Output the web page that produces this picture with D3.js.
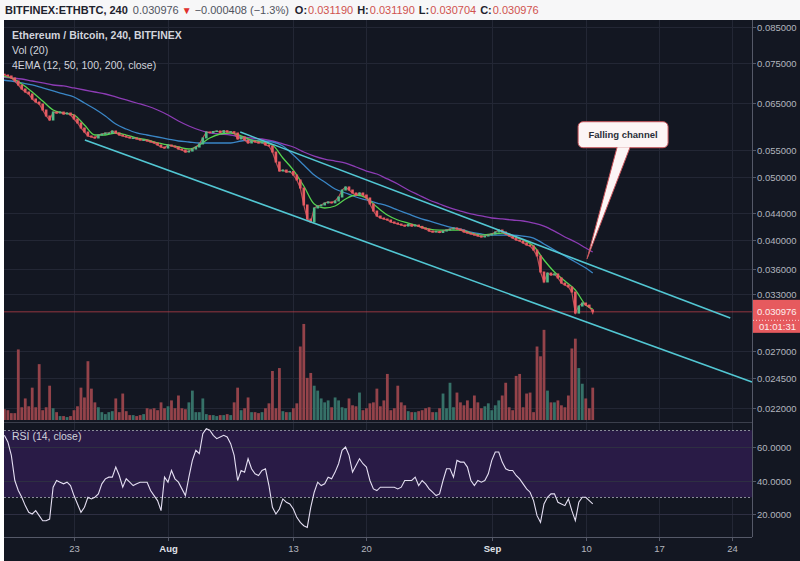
<!DOCTYPE html>
<html>
<head>
<meta charset="utf-8">
<script src="https://cdn.jsdelivr.net/npm/d3@7"></script>
<style>
body { margin: 0; background: #fff; }
text { font-family: "Liberation Sans", Arial, sans-serif; }
</style>
</head>
<body>
<svg id="chart" width="800" height="561"></svg>
<script>
// ETH/BTC 4h chart, Bitfinex, Jul 16 - Sep 10 2018 (one candle per 8h)
var candleStart = Date.UTC(2018, 6, 16, 8);
var candleHours = 8;

var closes = [
  .07179,.07154,.07104,.07028,.06929,.06831,.06759,.06711,.06593,.06523,
  .06477,.06340,.06207,.06119,.06295,.06273,.06295,.06251,.06273,.06229,
  .06141,.06055,.05948,.05864,.05782,.05762,.05741,.05802,.05823,.05843,
  .05843,.05885,.05843,.05802,.05782,.05762,.05741,.05741,.05721,.05700,
  .05700,.05680,.05660,.05640,.05600,.05560,.05540,.05600,.05580,.05560,
  .05520,.05501,.05462,.05481,.05520,.05560,.05620,.05741,.05864,.05850,
  .05875,.05885,.05855,.05890,.05864,.05870,.05843,.05721,.05762,.05700,
  .05640,.05680,.05660,.05640,.05650,.05600,.05580,.05462,.05272,.05106,
  .05124,.05088,.05098,.05034,.04946,.04807,.04526,.04306,.04261,.04478,
  .04510,.04526,.04558,.04575,.04560,.04591,.04656,.04773,.04825,.04773,
  .04723,.04689,.04723,.04689,.04640,.04542,.04430,.04352,.04322,.04306,
  .04291,.04261,.04245,.04230,.04215,.04200,.04225,.04200,.04215,.04195,
  .04171,.04156,.04126,.04112,.04120,.04105,.04126,.04141,.04156,.04171,
  .04156,.04141,.04112,.04097,.04083,.04068,.04054,.04040,.04054,.04068,
  .04083,.04112,.04141,.04112,.04083,.04054,.04025,.03997,.03983,.03955,
  .03927,.03913,.03857,.03777,.03568,.03444,.03555,.03530,.03543,.03493,
  .03431,.03407,.03383,.03323,.03084,.03162,.03196,.03173,.03151,.030976
];
var firstOpen = 0.07200;
var last = { o: 0.031190, h: 0.031190, l: 0.030704, c: 0.030976, change: "\u22120.000408 (\u22121.3%)" };

var volumes = [
  11,10,7,7,72,13,22,14,33,13,
  57,10,13,35,12,8,4,4,3,4,
  10,14,33,23,60,32,18,13,8,6,
  8,9,22,8,27,9,5,5,4,5,
  6,12,11,12,10,18,12,14,20,12,
  25,12,11,18,30,8,8,22,6,5,
  5,4,5,5,6,5,18,33,10,12,
  23,8,8,7,8,12,17,50,12,53,
  9,8,8,12,17,75,98,43,48,35,
  30,22,18,20,13,23,20,13,12,22,
  15,14,28,10,12,17,18,32,14,20,
  47,10,12,35,18,15,9,8,8,9,
  10,12,13,8,8,12,27,12,38,13,
  28,18,15,20,12,25,18,12,14,17,
  10,15,20,25,38,13,10,45,47,13,
  27,28,8,75,65,92,30,18,18,20,
  15,13,25,73,83,53,37,22,12,33
];

var rsi = [
  67,63,55,40,34,30,25,21,20,22,
  19,16,16,17,36,40,39,38,39,37,
  31,26,21,24,30,29,30,32,38,41,
  42,42,48,43,36,41,39,37,38,39,
  39,39,34,31,28,22,42,39,46,41,
  39,35,31,42,52,58,56,68,71,70,
  67,65,66,67,66,62,55,40,46,45,
  53,47,44,43,46,47,37,24,20,23,
  29,27,26,23,18,15,13,12,24,33,
  39,37,38,42,41,45,50,58,60,55,
  45,49,53,50,48,40,35,34,36,36,
  36,36,36,35,36,40,40,40,42,37,
  40,38,35,33,31,32,40,47,47,42,
  52,51,51,48,40,37,40,39,40,44,
  52,57,57,51,47,46,46,43,41,38,
  35,33,28,19,15,26,30,32,32,27,
  26,25,29,22,16,27,30,30,28,26
];

// EMAs read once a day (00:00 UTC Jul 16 .. Sep 10) plus the last candle
var ema12 = [
  .07154,.07104,.06954,.06759,.06547,.06340,.06273,.06229,.06012,.05802,
  .05802,.05844,.05802,.05741,.05700,.05640,.05600,.05560,.05521,.05600,
  .05741,.05823,.05844,.05782,.05700,.05660,.05600,.05347,.05124,.04842,
  .04542,.04478,.04510,.04623,.04689,.04640,.04494,.04368,.04291,.04245,
  .04200,.04156,.04141,.04141,.04141,.04097,.04068,.04083,.04097,.04054,
  .03997,.03913,.03723,.03568,.03456,.03347,.03173,.03128
];
var ema50 = [
  .07053,.07028,.06979,.06929,.06856,.06783,.06711,.06640,.06500,.06363,
  .06207,.06033,.05927,.05844,.05802,.05761,.05720,.05680,.05660,.05640,
  .05640,.05640,.05640,.05680,.05700,.05680,.05660,.05580,.05404,.05216,
  .05034,.04911,.04790,.04723,.04656,.04607,.04558,.04510,.04446,.04384,
  .04322,.04276,.04230,.04185,.04156,.04112,.04083,.04068,.04068,.04068,
  .04054,.04025,.03941,.03857,.03777,.03697,.03619,.03555
];
var ema100 = [
  .07129,.07104,.07078,.07028,.06979,.06929,.06905,.06856,.06807,.06759,
  .06711,.06640,.06570,.06500,.06431,.06340,.06229,.06098,.05991,.05906,
  .05844,.05823,.05802,.05761,.05741,.05720,.05680,.05620,.05560,.05462,
  .05385,.05328,.05290,.05253,.05179,.05106,.05052,.04964,.04876,.04773,
  .04689,.04607,.04542,.04478,.04430,.04384,.04353,.04322,.04307,.04291,
  .04276,.04245,.04200,.04126,.04040,.03969,.03885,.03830
];

// channel drawn on the chart (two trend lines)
var channel = [
  { from: [Date.UTC(2018, 7, 7, 22), 0.05864], to: [Date.UTC(2018, 8, 23, 20), 0.03031] },
  { from: [Date.UTC(2018, 6, 24, 1), 0.05700], to: [Date.UTC(2018, 8, 25, 22), 0.02414] }
];
var calloutText = "Falling channel";
var calloutAnchor = [Date.UTC(2018, 8, 10, 3), 0.03740];

var priceTicks = [0.085, 0.075, 0.065, 0.055, 0.050, 0.044, 0.040, 0.036, 0.033, 0.027, 0.0245, 0.022];
var rsiTicks = [60, 40, 20];
var timeTicks = [
  [Date.UTC(2018, 6, 23), "23", false], [Date.UTC(2018, 7, 1), "Aug", true],
  [Date.UTC(2018, 7, 13), "13", false], [Date.UTC(2018, 7, 20), "20", false],
  [Date.UTC(2018, 8, 1), "Sep", true], [Date.UTC(2018, 8, 10), "10", false],
  [Date.UTC(2018, 8, 17), "17", false], [Date.UTC(2018, 8, 24), "24", false]
];

var UP = "#53b987", DOWN = "#e65b62";

var svg = d3.select("#chart");
var L = 4, R = 752, T = 20, mainB = 422, rsiB = 537;

var x = d3.scaleUtc().domain([new Date(Date.UTC(2018, 6, 23)), new Date(Date.UTC(2018, 8, 24))]).range([74, 732]);
var y = d3.scaleLog().domain([0.033, 0.065]).range([294, 103]);
var yVol = d3.scaleLinear().domain([0, 100]).range([420, 322]);
var yRsi = d3.scaleLinear().domain([20, 60]).range([514, 447]);

// backgrounds
svg.append("rect").attr("width", 800).attr("height", T).attr("fill", "#f7f7f8");
svg.append("rect").attr("x", L).attr("y", T).attr("width", 800 - L).attr("height", 561 - T).attr("fill", "#131722");

var defs = svg.append("defs");
defs.append("clipPath").attr("id", "clipMain").append("rect").attr("x", L).attr("y", T).attr("width", R - L).attr("height", mainB - T);
defs.append("clipPath").attr("id", "clipRsi").append("rect").attr("x", L).attr("y", mainB + 1).attr("width", R - L).attr("height", rsiB - mainB - 1);

// grid
var grid = svg.append("g").attr("stroke", "#232735").attr("stroke-width", 1);
timeTicks.forEach(function(d) {
  grid.append("line").attr("x1", Math.round(x(d[0])) + .5).attr("x2", Math.round(x(d[0])) + .5).attr("y1", T).attr("y2", rsiB);
});
priceTicks.forEach(function(p) {
  grid.append("line").attr("x1", L).attr("x2", R).attr("y1", Math.round(y(p)) + .5).attr("y2", Math.round(y(p)) + .5);
});

// RSI band
var rsiG = svg.append("g").attr("clip-path", "url(#clipRsi)");
rsiG.append("rect").attr("x", L).attr("width", R - L).attr("y", yRsi(70)).attr("height", yRsi(30) - yRsi(70)).attr("fill", "#291b46");
rsiTicks.forEach(function(v) {
  rsiG.append("line").attr("x1", L).attr("x2", R).attr("y1", Math.round(yRsi(v)) + .5).attr("y2", Math.round(yRsi(v)) + .5)
    .attr("stroke", "#2e2f42");
});
[70, 30].forEach(function(v) {
  rsiG.append("line").attr("x1", L).attr("x2", R).attr("y1", Math.round(yRsi(v)) + .5).attr("y2", Math.round(yRsi(v)) + .5)
    .attr("stroke", "#8a8d99").attr("stroke-dasharray", "2,2");
});

// candles data
var candles = closes.map(function(c, i) {
  var o = i ? closes[i - 1] : firstOpen;
  var h = Math.max(o, c), l = Math.min(o, c);
  if (i === closes.length - 1) { o = last.o; h = last.h; l = last.l; }
  return { t: new Date(candleStart + i * candleHours * 3600e3), o: o, c: c, h: h, l: l, v: volumes[i], r: rsi[i] };
});

var main = svg.append("g").attr("clip-path", "url(#clipMain)");

// volume
main.selectAll(".vol").data(candles).enter().append("rect")
  .attr("x", function(d) { return x(d.t) - 1.4; })
  .attr("width", 2.8)
  .attr("y", function(d) { return yVol(d.v); })
  .attr("height", function(d) { return yVol(0) - yVol(d.v); })
  .attr("fill", function(d) { return d.c >= d.o ? "#367168" : "#94434a"; });

// current price line
main.append("line").attr("x1", L).attr("x2", R).attr("y1", y(last.c)).attr("y2", y(last.c))
  .attr("stroke", "#c9434c").attr("stroke-opacity", .7);

// EMAs
var emaDates = d3.utcDay.range(new Date(Date.UTC(2018, 6, 16)), new Date(Date.UTC(2018, 8, 11)));
emaDates.push(new Date(Date.UTC(2018, 8, 10, 16)));
var line = d3.line().x(function(d) { return x(d[0]); }).y(function(d) { return y(d[1]); }).curve(d3.curveMonotoneX);
[[ema100, "#8d3cb5"], [ema50, "#3a86c6"], [ema12, "#56d34f"]].forEach(function(s) {
  main.append("path").datum(s[0].map(function(v, i) { return [emaDates[i], v]; }))
    .attr("d", line).attr("fill", "none").attr("stroke", s[1]).attr("stroke-width", 1.3);
});

// candles (close-to-close trace underneath, then bodies)
var cg = main.append("g");
cg.append("path").datum(candles)
  .attr("d", d3.line().x(function(d) { return x(d.t); }).y(function(d) { return y(d.c); }))
  .attr("fill", "none").attr("stroke", DOWN).attr("stroke-width", 1.2).attr("stroke-opacity", .8);
cg.selectAll("line").data(candles).enter().append("line")
  .attr("x1", function(d) { return x(d.t); }).attr("x2", function(d) { return x(d.t); })
  .attr("y1", function(d) { return y(d.h); }).attr("y2", function(d) { return y(d.l); })
  .attr("stroke", function(d) { return d.c >= d.o ? UP : DOWN; });
cg.selectAll("rect").data(candles).enter().append("rect")
  .attr("x", function(d) { return x(d.t) - 1.3; })
  .attr("width", 2.6)
  .attr("y", function(d) { return y(Math.max(d.o, d.c)) - .5; })
  .attr("height", function(d) { return Math.max(1.5, y(Math.min(d.o, d.c)) - y(Math.max(d.o, d.c)) + 1); })
  .attr("fill", function(d) { return d.c >= d.o ? UP : DOWN; });

// channel lines
channel.forEach(function(c) {
  svg.append("line")
    .attr("x1", x(c.from[0])).attr("y1", y(c.from[1]))
    .attr("x2", x(c.to[0])).attr("y2", y(c.to[1]))
    .attr("stroke", "#52c7d3").attr("stroke-width", 1.6);
});

// RSI line
rsiG.append("path").datum(candles)
  .attr("d", d3.line().x(function(d) { return x(d.t); }).y(function(d) { return yRsi(d.r); }))
  .attr("fill", "none").attr("stroke", "#e4def2").attr("stroke-width", 1.1);

// pane borders
svg.append("line").attr("x1", L).attr("x2", R).attr("y1", mainB + .5).attr("y2", mainB + .5).attr("stroke", "#3b3f4c");
svg.append("line").attr("x1", L).attr("x2", R).attr("y1", rsiB + .5).attr("y2", rsiB + .5).attr("stroke", "#555968");
svg.append("line").attr("x1", R + .5).attr("x2", R + .5).attr("y1", T).attr("y2", rsiB).attr("stroke", "#555968");

// price axis
var axisG = svg.append("g").attr("font-size", 9.5).attr("fill", "#b2b5be");
priceTicks.forEach(function(p) {
  var py = Math.round(y(p)) + .5;
  axisG.append("line").attr("x1", R).attr("x2", R + 4).attr("y1", py).attr("y2", py).attr("stroke", "#555968");
  axisG.append("text").attr("x", 757).attr("y", py + 3.5).text(p.toFixed(6));
});
rsiTicks.forEach(function(v) {
  var ry = Math.round(yRsi(v)) + .5;
  axisG.append("line").attr("x1", R).attr("x2", R + 4).attr("y1", ry).attr("y2", ry).attr("stroke", "#555968");
  axisG.append("text").attr("x", 757).attr("y", ry + 3.5).text(v.toFixed(4));
});

// last price label
var ly = y(last.c);
svg.append("rect").attr("x", 753).attr("y", ly - 12).attr("width", 47).attr("height", 33).attr("fill", "#e65a5e");
svg.append("line").attr("x1", 753).attr("x2", 800).attr("y1", ly + 8.5).attr("y2", ly + 8.5)
  .attr("stroke", "#fbd4d5").attr("stroke-dasharray", "1,2");
svg.append("text").attr("x", 757).attr("y", ly + 3.5).attr("font-size", 9.5).attr("fill", "#fdeeee").text(last.c.toFixed(6));
svg.append("text").attr("x", 759).attr("y", ly + 18).attr("font-size", 9.5).attr("fill", "#fdeeee").text("01:01:31");

// time axis
timeTicks.forEach(function(d) {
  var tx = Math.round(x(d[0])) + .5;
  svg.append("line").attr("x1", tx).attr("x2", tx).attr("y1", rsiB).attr("y2", rsiB + 4).attr("stroke", "#555968");
  svg.append("text").attr("x", tx).attr("y", 552).attr("text-anchor", "middle").attr("font-size", 9.5)
    .attr("font-weight", d[2] ? "bold" : "normal").attr("fill", d[2] ? "#e0e3eb" : "#b2b5be").text(d[1]);
});

// legends
var lg = svg.append("g").attr("fill", "#d1d4dc").attr("font-size", 10.5);
lg.append("text").attr("x", 12).attr("y", 39).attr("font-weight", "bold").text("Ethereum / Bitcoin, 240, BITFINEX");
lg.append("text").attr("x", 12).attr("y", 54).text("Vol (20)");
lg.append("text").attr("x", 12).attr("y", 69).text("4EMA (12, 50, 100, 200, close)");
lg.append("text").attr("x", 12).attr("y", 440).text("RSI (14, close)");

// header
var hx = 5;
var header = [
  ["BITFINEX:ETHBTC, 240", "#1e222d", "bold", 5],
  [last.c.toFixed(6), "#50535e", "normal", 3],
  ["\u25BC", "#e0302e", "normal", 3],
  [last.change, "#50535e", "normal", 6],
  ["O:", "#1e222d", "bold", 1], [last.o.toFixed(6), "#d0524e", "normal", 4],
  ["H:", "#1e222d", "bold", 1], [last.h.toFixed(6), "#d0524e", "normal", 4],
  ["L:", "#1e222d", "bold", 1], [last.l.toFixed(6), "#d0524e", "normal", 4],
  ["C:", "#1e222d", "bold", 1], [last.c.toFixed(6), "#d0524e", "normal", 4]
];
header.forEach(function(h) {
  var t = svg.append("text").attr("x", hx).attr("y", 14).attr("font-size", 11)
    .attr("font-weight", h[2]).attr("fill", h[1]).text(h[0]);
  if (h[0] === "\u25BC") t.attr("font-family", "DejaVu Sans").attr("font-size", 10);
  hx += t.node().getComputedTextLength() + h[3];
});

// callout
var ax = x(new Date(calloutAnchor[0])), ay = y(calloutAnchor[1]);
var cgp = svg.append("g");
cgp.append("rect").attr("x", ax - 9).attr("y", ay - 137).attr("width", 90).attr("height", 26).attr("rx", 5)
  .attr("fill", "#fcf5f5").attr("stroke", "#c9545a").attr("stroke-width", 1);
cgp.append("path")
  .attr("d", "M" + (ax + 30) + "," + (ay - 111.5) + "L" + ax + "," + ay + "L" + (ax + 43) + "," + (ay - 111.5))
  .attr("fill", "#fcf5f5").attr("stroke", "#c9545a").attr("stroke-width", 1);
cgp.append("text").attr("x", ax + 36).attr("y", ay - 121).attr("text-anchor", "middle")
  .attr("font-size", 9.5).attr("font-weight", "bold").attr("fill", "#2a2e39").text(calloutText);
</script>
</body>
</html>
